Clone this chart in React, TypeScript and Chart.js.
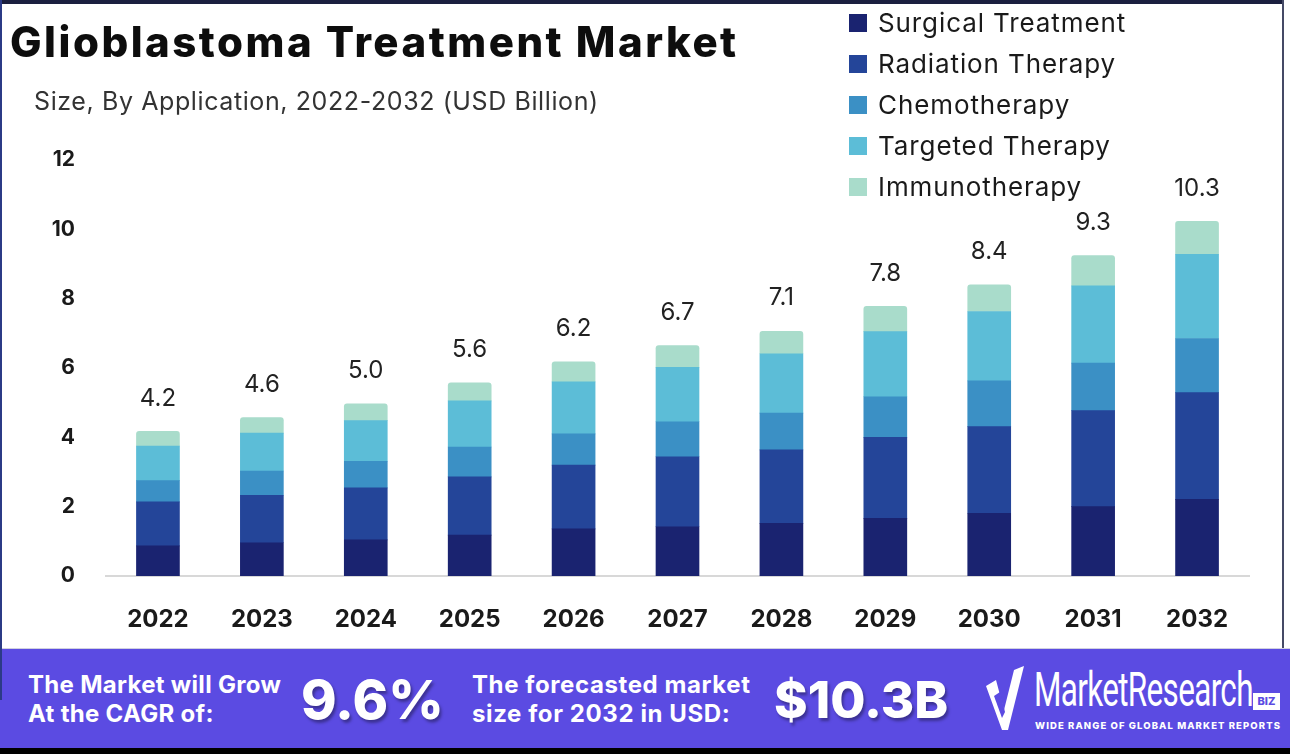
import React, { useEffect, useRef } from "react";
import { Chart, registerables } from "chart.js";

Chart.register(...registerables);

const years = ["2022", "2023", "2024", "2025", "2026", "2027", "2028", "2029", "2030", "2031", "2032"];
const surgical = [0.87, 0.96, 1.04, 1.18, 1.36, 1.42, 1.52, 1.66, 1.81, 2.0, 2.21];
const radiation = [1.27, 1.37, 1.5, 1.68, 1.84, 2.02, 2.12, 2.34, 2.5, 2.77, 3.08];
const chemotherapy = [0.61, 0.7, 0.77, 0.86, 0.9, 1.01, 1.06, 1.17, 1.32, 1.37, 1.56];
const targeted = [1.0, 1.09, 1.17, 1.33, 1.5, 1.57, 1.71, 1.88, 2.0, 2.23, 2.43];
const immunotherapy = [0.42, 0.45, 0.49, 0.52, 0.58, 0.63, 0.65, 0.73, 0.77, 0.87, 0.95];
const totals = ["4.2", "4.6", "5.0", "5.6", "6.2", "6.7", "7.1", "7.8", "8.4", "9.3", "10.3"];
const yTicks = [0, 2, 4, 6, 8, 10, 12];

const seriesNames = ["Surgical Treatment", "Radiation Therapy", "Chemotherapy", "Targeted Therapy", "Immunotherapy"];
const seriesColors = ["#1a2370", "#244599", "#3b90c5", "#5cbdd7", "#a9dccb"];
const seriesData = [surgical, radiation, chemotherapy, targeted, immunotherapy];

const FONT = "Inter, 'Noto Sans', sans-serif";

const totalsPlugin = {
  id: "totalsLabels",
  afterDatasetsDraw(chart: any) {
    const ctx = chart.ctx;
    const last = chart.getDatasetMeta(chart.data.datasets.length - 1);
    ctx.save();
    ctx.font = `400 24px ${FONT}`;
    ctx.fillStyle = "#222";
    ctx.textAlign = "center";
    ctx.textBaseline = "middle";
    last.data.forEach((bar: any, i: number) => {
      ctx.fillText(totals[i], bar.x, bar.y - 33);
    });
    ctx.restore();
  },
};

export default function App() {
  const canvasRef = useRef<HTMLCanvasElement | null>(null);

  useEffect(() => {
    document.body.style.margin = "0";
    const canvas = canvasRef.current;
    if (!canvas) return;
    const chart = new Chart(canvas, {
      type: "bar",
      data: {
        labels: years,
        datasets: seriesData.map((d, i) => ({
          label: seriesNames[i],
          data: d,
          backgroundColor: seriesColors[i],
          borderWidth: 0,
          barThickness: 43,
          borderRadius: i === seriesData.length - 1 ? { topLeft: 3, topRight: 3, bottomLeft: 0, bottomRight: 0 } : 0,
          borderSkipped: false,
        })),
      },
      options: {
        animation: false,
        responsive: false,
        maintainAspectRatio: false,
        devicePixelRatio: 1,
        layout: { padding: { top: 160, right: 41, left: 0, bottom: 0 } },
        plugins: {
          legend: { display: false },
          tooltip: { enabled: false },
        },
        scales: {
          x: {
            stacked: true,
            grid: { display: false, drawTicks: false, tickLength: 0 },
            border: { display: true, color: "#d8d8d8", width: 2 },
            ticks: {
              padding: 29,
              color: "#1a1a1a",
              font: { family: FONT, size: 24, weight: "bold" },
            },
            afterFit(scale: any) {
              scale.height = 72;
            },
          },
          y: {
            stacked: true,
            min: 0,
            max: 12,
            grid: { display: false, drawTicks: false, tickLength: 0 },
            border: { display: false },
            afterBuildTicks(scale: any) {
              scale.ticks = yTicks.map((v) => ({ value: v }));
            },
            ticks: {
              padding: 31,
              crossAlign: "near",
              color: "#1a1a1a",
              font: { family: FONT, size: 21, weight: "bold" },
            },
            afterFit(scale: any) {
              scale.width = 106;
            },
          },
        },
      },
      plugins: [totalsPlugin],
    } as any);
    return () => chart.destroy();
  }, []);

  return (
    <div style={{ position: "relative", width: 1290, height: 754, background: "#ffffff", overflow: "hidden", fontFamily: FONT }}>
      <canvas ref={canvasRef} width={1290} height={648} style={{ position: "absolute", left: 0, top: 0, width: 1290, height: 648 }} />
      {/* frame */}
      <div style={{ position: "absolute", left: 0, top: 0, width: 1290, height: 4, background: "#1b1f3f" }} />
      <div style={{ position: "absolute", left: 0, top: 0, width: 2, height: 700, background: "#2b3a86" }} />
      <div style={{ position: "absolute", left: 1282, top: 0, width: 2, height: 648, background: "#454a66" }} />
      <div style={{ position: "absolute", left: 1284, top: 0, width: 6, height: 648, background: "#ffffff" }} />
      {/* title */}
      <div style={{ position: "absolute", left: 10, top: 16, fontSize: 42, fontWeight: 800, color: "#0d0d0d", whiteSpace: "nowrap", letterSpacing: 2.5, lineHeight: "52px" }}>
        Glioblastoma Treatment Market
      </div>
      <div style={{ position: "absolute", left: 34, top: 86, fontSize: 25, fontWeight: 400, color: "#333", whiteSpace: "nowrap", letterSpacing: 0.6, lineHeight: "30px" }}>
        Size, By Application, 2022-2032 (USD Billion)
      </div>
      {/* legend */}
      <div style={{ position: "absolute", left: 849, top: 2 }}>
        {seriesNames.map((n, i) => (
          <div key={n} style={{ display: "flex", alignItems: "center", height: 41 }}>
            <div style={{ width: 18, height: 18, background: seriesColors[i], marginRight: 11 }} />
            <div style={{ fontSize: 26, color: "#1a1a1a", whiteSpace: "nowrap", letterSpacing: 0.9 }}>{n}</div>
          </div>
        ))}
      </div>
      {/* banner */}
      <div style={{ position: "absolute", left: 0, top: 648, width: 1290, height: 100, background: "#5b4be2", borderTop: "1px solid #d0d0e0", boxSizing: "border-box" }} />
      <div style={{ position: "absolute", left: 0, top: 648, width: 2, height: 52, background: "#2b3a86" }} />
      <div style={{ position: "absolute", left: 0, top: 748, width: 1290, height: 6, background: "#000" }} />
      <div style={{ position: "absolute", left: 28, top: 670, color: "#fff", fontSize: 24, fontWeight: 700, lineHeight: "29px", whiteSpace: "nowrap", letterSpacing: 0.3 }}>
        The Market will Grow<br />At the CAGR of:
      </div>
      <div style={{ position: "absolute", left: 301, top: 664, color: "#fff", fontSize: 54, fontWeight: 800, lineHeight: "72px", whiteSpace: "nowrap", textShadow: "2px 3px 3px rgba(0,0,0,0.35)" }}>
        9.6%
      </div>
      <div style={{ position: "absolute", left: 472, top: 670, color: "#fff", fontSize: 24, fontWeight: 700, lineHeight: "29px", whiteSpace: "nowrap", letterSpacing: 0.6 }}>
        The forecasted market<br />size for 2032 in USD:
      </div>
      <div style={{ position: "absolute", left: 774, top: 664, color: "#fff", fontSize: 51, fontWeight: 800, lineHeight: "72px", whiteSpace: "nowrap", textShadow: "2px 3px 3px rgba(0,0,0,0.35)" }}>
        $10.3B
      </div>
      {/* logo */}
      <svg style={{ position: "absolute", left: 984, top: 666 }} width={42} height={66} viewBox="0 0 42 66">
        <polygon points="2,20 12,14 20,44 30,4 40,0 24,64 18,64" fill="#ffffff" />
        <polygon points="10,30 16,26 21,46 18,52" fill="#5b4be2" />
      </svg>
      <div style={{ position: "absolute", left: 1034, top: 662, color: "#fff", fontSize: 48, fontWeight: 400, fontFamily: "Roboto, sans-serif", whiteSpace: "nowrap", letterSpacing: -1, lineHeight: "56px", transform: "scaleX(0.655)", transformOrigin: "0 0" }}>
        MarketResearch
      </div>
      <div style={{ position: "absolute", left: 1253, top: 693, width: 27, height: 17, background: "#fff", color: "#5b4be2", fontSize: 11, fontWeight: 800, textAlign: "center", lineHeight: "17px" }}>
        BIZ
      </div>
      <div style={{ position: "absolute", left: 1035, top: 720, width: 247, overflow: "hidden", color: "#fff", fontSize: 9.5, fontWeight: 800, letterSpacing: 1.1, whiteSpace: "nowrap", lineHeight: "12px" }}>
        WIDE RANGE OF GLOBAL MARKET REPORTS
      </div>
    </div>
  );
}
